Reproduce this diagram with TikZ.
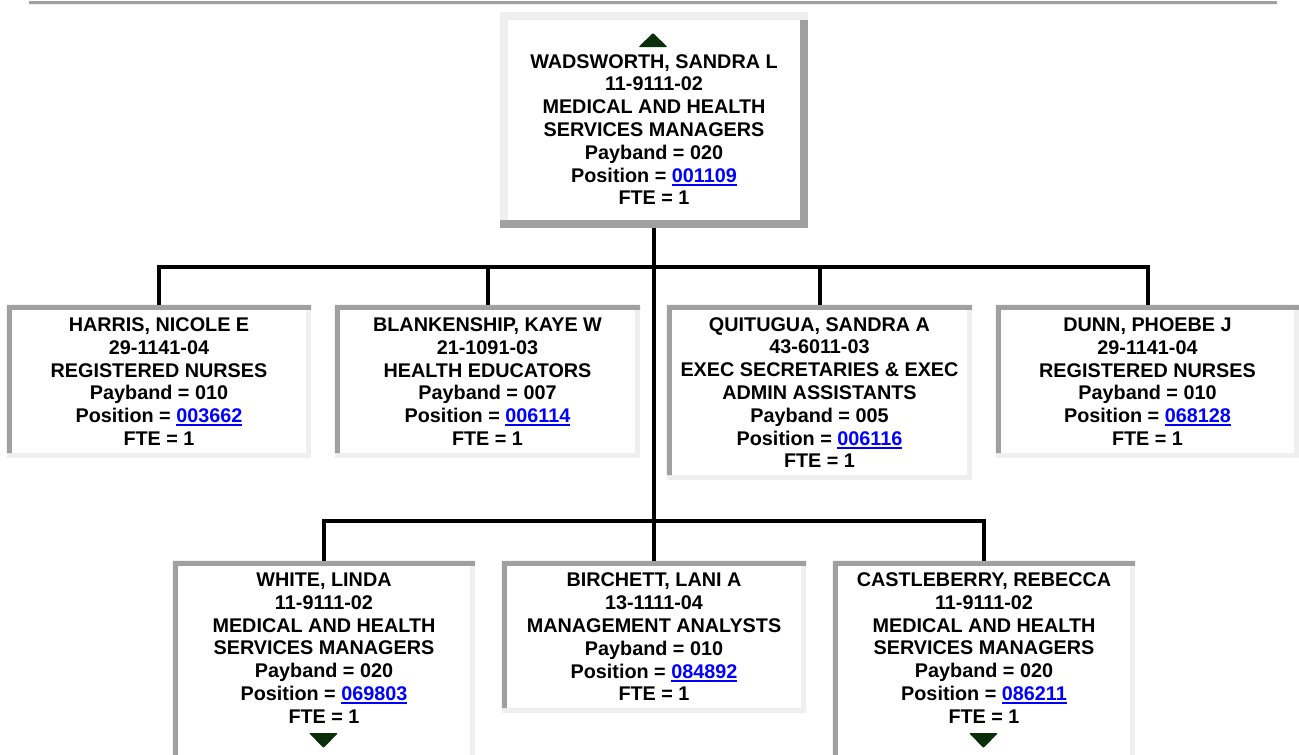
\documentclass[tikz,border=0pt]{standalone}
\usepackage{fontspec}
\setmainfont{Liberation Sans}
\usetikzlibrary{backgrounds}
\definecolor{bdark}{HTML}{A0A0A0}
\definecolor{blight}{HTML}{EFEFEF}
\definecolor{linkblue}{HTML}{0000FF}
\definecolor{tricol}{HTML}{0B2E0B}
\newcommand\poslink[1]{{\color{linkblue}\setbox0\hbox{#1}\rlap{\rule[-3.6pt]{\wd0}{2pt}}\box0}}
\newcommand\insetframe[2]{%
  \begin{pgfonlayer}{background}
  \fill[blight] (#1.north west) rectangle (#1.south east);
  \fill[bdark] (#1.north west) -- (#1.north east) -- ([yshift=-#2]#1.north east)
     -- ([xshift=#2,yshift=-#2]#1.north west) -- ([xshift=#2,yshift=#2]#1.south west)
     -- ([yshift=#2]#1.south west) -- cycle;
  \fill[white] ([xshift=#2,yshift=-#2]#1.north west) rectangle ([xshift=-#2,yshift=#2]#1.south east);
  \end{pgfonlayer}}
\newcommand\outsetframe[2]{%
  \begin{pgfonlayer}{background}
  \fill[bdark] (#1.north west) rectangle (#1.south east);
  \fill[blight] (#1.north west) -- (#1.north east) -- ([yshift=-#2]#1.north east)
     -- ([xshift=#2,yshift=-#2]#1.north west) -- ([xshift=#2,yshift=#2]#1.south west)
     -- ([yshift=#2]#1.south west) -- cycle;
  \fill[white] ([xshift=#2,yshift=-#2]#1.north west) rectangle ([xshift=-#2,yshift=#2]#1.south east);
  \end{pgfonlayer}}
\tikzset{
  box/.style={inner sep=0pt, align=center, font=\fontsize{19.8}{22.8}\selectfont\bfseries},
  conn/.style={line width=4pt, draw=black},
  arrowtri/.style={fill=tricol, rounded corners=1pt}
}
\begin{document}
\begin{tikzpicture}[x=1pt,y=-1pt]
\useasboundingbox (0,0) rectangle (1299,755);
% top rule
\fill[bdark] (29,1) rectangle (1277,4);
\fill[blight] (29,4) rectangle (1278,5.3);

% top box
\node[box, minimum width=308pt, minimum height=216pt] (top) at (654,120)
  {\rule{0pt}{33pt}WADSWORTH, SANDRA L\\11-9111-02\\MEDICAL AND HEALTH\\SERVICES MANAGERS\\Payband = 020\\Position = \poslink{001109}\\FTE = 1};
\outsetframe{top}{8pt}
\fill[arrowtri] (638.5,47) -- (667.5,47) -- (653,33) -- cycle;

% middle row
\node[box, minimum width=304pt, minimum height=153pt] (harris) at (159,381.5)
  {HARRIS, NICOLE E\\29-1141-04\\REGISTERED NURSES\\Payband = 010\\Position = \poslink{003662}\\FTE = 1};
\insetframe{harris}{5pt}
\node[box, minimum width=305pt, minimum height=153pt] (blank) at (487.5,381.5)
  {BLANKENSHIP, KAYE W\\21-1091-03\\HEALTH EDUCATORS\\Payband = 007\\Position = \poslink{006114}\\FTE = 1};
\insetframe{blank}{5pt}
\node[box, minimum width=305pt, minimum height=175pt] (quit) at (819.5,392.5)
  {QUITUGUA, SANDRA A\\43-6011-03\\EXEC SECRETARIES \& EXEC\\ADMIN ASSISTANTS\\Payband = 005\\Position = \poslink{006116}\\FTE = 1};
\insetframe{quit}{5pt}
\node[box, minimum width=303pt, minimum height=153pt] (dunn) at (1147.5,381.5)
  {DUNN, PHOEBE J\\29-1141-04\\REGISTERED NURSES\\Payband = 010\\Position = \poslink{068128}\\FTE = 1};
\insetframe{dunn}{5pt}

% bottom row
\node[box, minimum width=302pt, minimum height=204pt] (white) at (324,663)
  {WHITE, LINDA\\11-9111-02\\MEDICAL AND HEALTH\\SERVICES MANAGERS\\Payband = 020\\Position = \poslink{069803}\\FTE = 1\rule[-30pt]{0pt}{0pt}};
\insetframe{white}{5pt}
\fill[arrowtri] (309,733) -- (338,733) -- (323.5,748) -- cycle;
\node[box, minimum width=304pt, minimum height=152pt] (birch) at (654,637)
  {BIRCHETT, LANI A\\13-1111-04\\MANAGEMENT ANALYSTS\\Payband = 010\\Position = \poslink{084892}\\FTE = 1};
\insetframe{birch}{5pt}
\node[box, minimum width=302pt, minimum height=204pt] (castle) at (984,663)
  {CASTLEBERRY, REBECCA\\11-9111-02\\MEDICAL AND HEALTH\\SERVICES MANAGERS\\Payband = 020\\Position = \poslink{086211}\\FTE = 1\rule[-30pt]{0pt}{0pt}};
\insetframe{castle}{5pt}
\fill[arrowtri] (969,733) -- (998,733) -- (983.5,748) -- cycle;

% connectors
\coordinate (jU) at (654,267);
\coordinate (jL) at (654,521);
\draw[conn] (top.south) -- (jL);
\draw[conn] (harris.north) -- (harris.north |- jU) -- (dunn.north |- jU) -- (dunn.north);
\draw[conn] (blank.north) -- (blank.north |- jU);
\draw[conn] (quit.north) -- (quit.north |- jU);
\draw[conn] (white.north) -- (white.north |- jL) -- (castle.north |- jL) -- (castle.north);
\draw[conn] (birch.north) -- (jL);
\end{tikzpicture}
\end{document}
